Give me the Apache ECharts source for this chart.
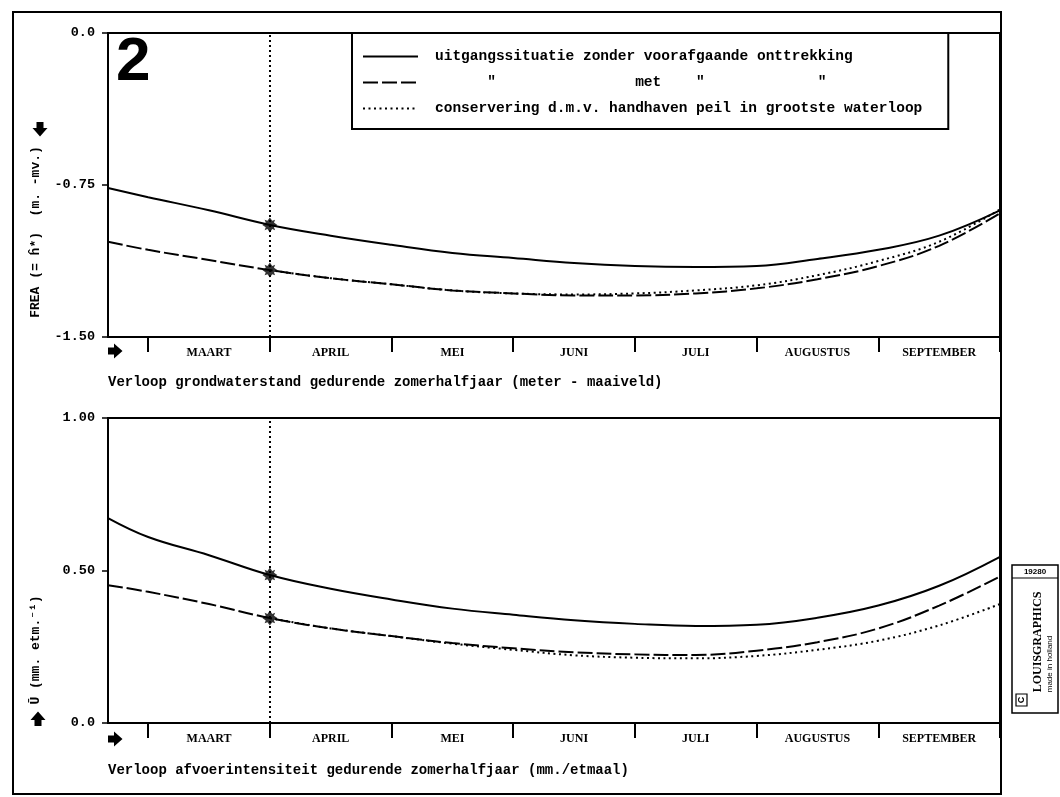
<!DOCTYPE html>
<html>
<head>
<meta charset="utf-8">
<script src="https://cdn.jsdelivr.net/npm/echarts@6/dist/echarts.min.js"></script>
<style>html,body{margin:0;padding:0;background:#fff;}#c{width:1060px;height:797px;}</style>
</head>
<body>
<div id="c"></div>
<script>
// ---- data (x in months after 1 March) ----
const monthLabels = ['MAART', 'APRIL', 'MEI', 'JUNI', 'JULI', 'AUGUSTUS', 'SEPTEMBER'];
const monthTicks = [0, 1, 2, 3, 4, 5, 6, 7];
const monthLabelPos = [0.5, 1.5, 2.5, 3.5, 4.5, 5.5, 6.5];
const xPos = [-0.33, 0, 0.5, 1, 1.5, 2, 2.5, 3, 3.5, 4, 4.5, 5, 5.5, 6, 6.5, 7];
const markerX = 1;

const freaBase = [-0.765, -0.81, -0.875, -0.947, -1.00, -1.045, -1.085, -1.11, -1.135, -1.15, -1.155, -1.15, -1.115, -1.07, -1.00, -0.875];
const freaMet  = [-1.03, -1.07, -1.12, -1.17, -1.21, -1.24, -1.27, -1.285, -1.295, -1.295, -1.285, -1.26, -1.215, -1.15, -1.05, -0.89];
const freaCons = [null, null, null, -1.17, -1.21, -1.24, -1.27, -1.285, -1.29, -1.285, -1.27, -1.245, -1.195, -1.125, -1.03, -0.87];

const uBase = [0.672, 0.61, 0.55, 0.485, 0.44, 0.405, 0.375, 0.355, 0.337, 0.325, 0.318, 0.322, 0.345, 0.385, 0.45, 0.545];
const uMet  = [0.452, 0.43, 0.39, 0.344, 0.31, 0.285, 0.262, 0.245, 0.232, 0.225, 0.223, 0.237, 0.265, 0.31, 0.385, 0.48];
const uCons = [null, null, null, 0.344, 0.31, 0.285, 0.26, 0.24, 0.222, 0.214, 0.212, 0.22, 0.24, 0.27, 0.32, 0.39];

const topTicks = [-1.5, -0.75, 0];
const bottomTicks = [0, 0.5, 1];

const nameBase = 'uitgangssituatie zonder voorafgaande onttrekking';
const nameMet  = '      "                met    "             "';
const nameCons = 'conservering d.m.v. handhaven peil in grootste waterloop';
const titleTop = 'Verloop grondwaterstand gedurende zomerhalfjaar (meter - maaiveld)';
const titleBottom = 'Verloop afvoerintensiteit gedurende zomerhalfjaar (mm./etmaal)';
const yNameTop = 'FREA (= ĥ*)  (m. -mv.)';
const yNameBottom = 'Ū (mm. etm.⁻¹)';

// ---- helpers ----
const pairs = (arr) => xPos.map((x, i) => [x, arr[i]]).filter(p => p[1] !== null);
const MONO = '"Liberation Mono", "DejaVu Sans Mono", monospace';
const SERIF = '"Liberation Serif", "DejaVu Serif", serif';
const SANS = '"Liberation Sans", Arial, sans-serif';
const starPath = 'path://M0,-10 L3.2,-5.5 L7,-7 L5.5,-3.2 L10,0 L5.5,3.2 L7,7 L3.2,5.5 L0,10 L-3.2,5.5 L-7,7 L-5.5,3.2 L-10,0 L-5.5,-3.2 L-7,-7 L-3.2,-5.5 Z';

function xAxisCfg(gi) {
  return {
    type: 'value', gridIndex: gi, min: -0.33, max: 7,
    axisLine: { show: true, onZero: false, lineStyle: { color: '#000', width: 2 } },
    axisTick: { show: true, customValues: monthTicks, length: 15, inside: false, lineStyle: { color: '#000', width: 2 } },
    axisLabel: {
      customValues: monthLabelPos, margin: 10, color: '#000',
      fontFamily: SERIF, fontWeight: 'bold', fontSize: 12,
      formatter: (v) => monthLabels[Math.round(v - 0.5)]
    },
    splitLine: { show: false }
  };
}
function yAxisCfg(gi, mn, mx, iv) {
  return {
    type: 'value', gridIndex: gi, min: mn, max: mx, interval: iv,
    axisLine: { show: true, onZero: false, lineStyle: { color: '#000', width: 2 } },
    axisTick: { show: true, length: 6, lineStyle: { color: '#000', width: 1.5 } },
    axisLabel: {
      margin: 13, color: '#000', fontFamily: MONO, fontWeight: 'bold', fontSize: 13.5,
      formatter: (v) => (Math.abs(v) < 1e-9 ? '0.0' : v.toFixed(2))
    },
    splitLine: { show: false }
  };
}
const solid = { color: '#000', width: 2, type: 'solid' };
const dashed = { color: '#000', width: 2, type: [15, 4] };
const dotted = { color: '#000', width: 2, type: [2, 3.5] };
const vline = {
  silent: true, symbol: 'none', label: { show: false },
  lineStyle: { color: '#000', width: 2, type: [2, 3] },
  data: [{ xAxis: markerX }]
};

function arrow(cx, cy, dir) {
  // block arrow pointing down, rotated by dir
  const pts = [[-3.5,-7],[3.5,-7],[3.5,-1],[7.5,-1],[0,7.5],[-7.5,-1],[-3.5,-1]];
  const rot = { down: 0, up: Math.PI, right: Math.PI / 2, left: -Math.PI / 2 }[dir];
  return { type: 'polygon', x: cx, y: cy, rotation: rot, shape: { points: pts }, style: { fill: '#000' }, z: 10 };
}

const chart = echarts.init(document.getElementById('c'), null, { renderer: 'canvas' });
chart.setOption({
  animation: false,
  backgroundColor: '#fff',
  grid: [
    { left: 108, top: 33, width: 892, height: 304, show: true, borderColor: '#000', borderWidth: 2, backgroundColor: 'transparent' },
    { left: 108, top: 418, width: 892, height: 305, show: true, borderColor: '#000', borderWidth: 2, backgroundColor: 'transparent' }
  ],
  xAxis: [xAxisCfg(0), xAxisCfg(1)],
  yAxis: [yAxisCfg(0, topTicks[0], topTicks[2], 0.75), yAxisCfg(1, bottomTicks[0], bottomTicks[2], 0.5)],
  title: [
    { text: titleTop, left: 108, top: 375, padding: 0, textStyle: { fontFamily: MONO, fontWeight: 'bold', fontSize: 14, color: '#000' } },
    { text: titleBottom, left: 108, top: 763, padding: 0, textStyle: { fontFamily: MONO, fontWeight: 'bold', fontSize: 14, color: '#000' } }
  ],
  legend: {
    data: [nameBase, nameMet, nameCons],
    orient: 'vertical', left: 352, top: 33,
    padding: [16, 26, 13, 10], itemGap: 11, itemWidth: 55, itemHeight: 16,
    itemStyle: { opacity: 0 },
    backgroundColor: '#fff', borderColor: '#000', borderWidth: 2,
    textStyle: { fontFamily: MONO, fontWeight: 'bold', fontSize: 14.5, color: '#000', padding: [0, 0, 0, 12] },
    selectedMode: false, z: 20
  },
  series: [
    { type: 'line', name: nameBase, xAxisIndex: 0, yAxisIndex: 0, data: pairs(freaBase), smooth: 0.4, symbol: 'none', lineStyle: solid, itemStyle: { color: '#000' }, markLine: vline, z: 3 },
    { type: 'line', name: nameMet, xAxisIndex: 0, yAxisIndex: 0, data: pairs(freaMet), smooth: 0.4, symbol: 'none', lineStyle: dashed, itemStyle: { color: '#000' }, z: 3 },
    { type: 'line', name: nameCons, xAxisIndex: 0, yAxisIndex: 0, data: pairs(freaCons), smooth: 0.4, symbol: 'none', lineStyle: dotted, itemStyle: { color: '#000' }, z: 2 },
    { type: 'scatter', name: 'marker-top', xAxisIndex: 0, yAxisIndex: 0, symbol: starPath, symbolSize: 15, itemStyle: { color: '#000' },
      data: [[markerX, freaBase[xPos.indexOf(markerX)]], [markerX, freaMet[xPos.indexOf(markerX)]]], z: 5 },

    { type: 'line', name: nameBase, xAxisIndex: 1, yAxisIndex: 1, data: pairs(uBase), smooth: 0.4, symbol: 'none', lineStyle: solid, itemStyle: { color: '#000' }, markLine: vline, z: 3 },
    { type: 'line', name: nameMet, xAxisIndex: 1, yAxisIndex: 1, data: pairs(uMet), smooth: 0.4, symbol: 'none', lineStyle: dashed, itemStyle: { color: '#000' }, z: 3 },
    { type: 'line', name: nameCons, xAxisIndex: 1, yAxisIndex: 1, data: pairs(uCons), smooth: 0.4, symbol: 'none', lineStyle: dotted, itemStyle: { color: '#000' }, z: 2 },
    { type: 'scatter', name: 'marker-bottom', xAxisIndex: 1, yAxisIndex: 1, symbol: starPath, symbolSize: 15, itemStyle: { color: '#000' },
      data: [[markerX, uBase[xPos.indexOf(markerX)]], [markerX, uMet[xPos.indexOf(markerX)]]], z: 5 }
  ],
  graphic: [
    // outer frame
    { type: 'rect', shape: { x: 13, y: 12, width: 988, height: 782 }, style: { fill: 'none', stroke: '#000', lineWidth: 2 }, z: 0, silent: true },
    // big figure number
    { type: 'text', x: 116, y: 32, style: { text: '2', fontFamily: SANS, fontWeight: 'bold', fontSize: 62, fill: '#000', verticalAlign: 'top' }, z: 10 },
    // y axis names
    { type: 'text', x: 36, y: 232, rotation: Math.PI / 2, style: { text: yNameTop, fontFamily: MONO, fontWeight: 'bold', fontSize: 13, fill: '#000', align: 'center', verticalAlign: 'middle' }, z: 10 },
    { type: 'text', x: 36, y: 650, rotation: Math.PI / 2, style: { text: yNameBottom, fontFamily: MONO, fontWeight: 'bold', fontSize: 13, fill: '#000', align: 'center', verticalAlign: 'middle' }, z: 10 },
    arrow(40, 129, 'down'),
    arrow(38, 719, 'up'),
    arrow(115, 351, 'right'),
    arrow(115, 739, 'right'),
    // publisher stamp
    { type: 'rect', shape: { x: 1012, y: 565, width: 46, height: 148 }, style: { fill: '#fff', stroke: '#000', lineWidth: 1.5 }, z: 10 },
    { type: 'line', shape: { x1: 1012, y1: 578, x2: 1058, y2: 578 }, style: { stroke: '#000', lineWidth: 1.2 }, z: 11 },
    { type: 'text', x: 1035, y: 572, style: { text: '19280', fontFamily: SANS, fontSize: 8, fontWeight: 'bold', fill: '#000', align: 'center', verticalAlign: 'middle' }, z: 11 },
    { type: 'text', x: 1038, y: 642, rotation: Math.PI / 2, style: { text: 'LOUISGRAPHICS', fontFamily: SERIF, fontSize: 12, fontWeight: 'bold', fill: '#000', align: 'center', verticalAlign: 'middle' }, z: 11 },
    { type: 'text', x: 1050, y: 664, rotation: Math.PI / 2, style: { text: 'made in holland', fontFamily: SANS, fontSize: 8, fill: '#000', align: 'center', verticalAlign: 'middle' }, z: 11 },
    { type: 'rect', shape: { x: 1016, y: 694, width: 11, height: 12 }, style: { fill: 'none', stroke: '#000', lineWidth: 1.2 }, z: 11 },
    { type: 'text', x: 1021.5, y: 700, rotation: Math.PI / 2, style: { text: 'C', fontFamily: SANS, fontSize: 9, fontWeight: 'bold', fill: '#000', align: 'center', verticalAlign: 'middle' }, z: 11 }
  ]
});
</script>
</body>
</html>
